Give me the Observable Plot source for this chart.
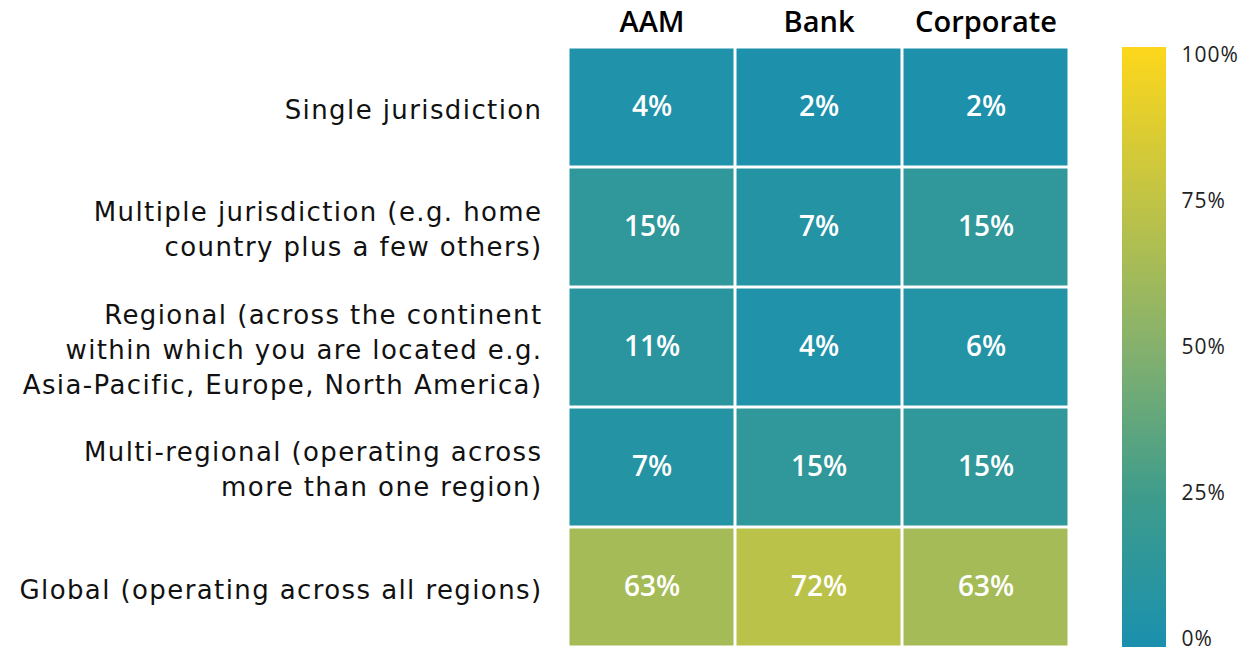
<!DOCTYPE html>
<html>
<head>
<meta charset="utf-8">
<script src="https://cdn.jsdelivr.net/npm/d3@7"></script>
<script src="https://cdn.jsdelivr.net/npm/@observablehq/plot@0.6"></script>
<style>
  body { margin: 0; background: #fff; font-family: "Open Sans", sans-serif; }
  #wrap { display: flex; width: 1252px; height: 651px; }
  #legend { margin-left: 50px; }
  .rowlabels text { letter-spacing: 1.4px; }
  .legendlabels text { letter-spacing: 1px; }
</style>
</head>
<body>
<div id="wrap"><div id="main"></div><div id="legend"></div></div>
<script>
const groups = ["AAM", "Bank", "Corporate"];
const scopes = [
  "Single jurisdiction",
  "Multiple jurisdiction (e.g. home\ncountry plus a few others)",
  "Regional (across the continent\nwithin which you are located e.g.\nAsia-Pacific, Europe, North America)",
  "Multi-regional (operating across\nmore than one region)",
  "Global (operating across all regions)"
];
const aam       = [0.04, 0.15, 0.11, 0.07, 0.63];
const bank      = [0.02, 0.07, 0.04, 0.15, 0.72];
const corporate = [0.02, 0.15, 0.06, 0.15, 0.63];
const legendTicks = [0, 0.25, 0.5, 0.75, 1];
const colorStops = [0, 0.25, 0.5, 0.75, 1];
const colorRange = ["#1a90ae", "#3e9c8c", "#85b16d", "#c2c444", "#fdd71b"];

const series = {AAM: aam, Bank: bank, Corporate: corporate};
const data = [];
for (const g of groups) scopes.forEach((s, i) => data.push({group: g, scope: s, value: series[g][i]}));

const FONT = "Open Sans, sans-serif";
const color = {type: "linear", domain: colorStops, range: colorRange};

const heat = Plot.plot({
  width: 1072, height: 651,
  marginLeft: 567, marginRight: 2, marginTop: 47, marginBottom: 4,
  style: {fontFamily: FONT, background: "#fff"},
  x: {domain: groups, padding: 0, label: null},
  y: {domain: scopes, padding: 0, label: null},
  color,
  marks: [
    Plot.cell(data, {x: "group", y: "scope", fill: "value", inset: 1.5}),
    Plot.text(data, {x: "group", y: "scope", text: d => Math.round(d.value * 100) + "%",
      fill: "white", fontSize: 28, fontWeight: 600}),
    Plot.axisX({anchor: "top", tickSize: 0, tickPadding: 16, fontSize: 29, fontWeight: 600, fill: "#000", label: null}),
    Plot.axisY({anchor: "left", tickSize: 0, tickPadding: 25, fontSize: 26, lineHeight: 1.35,
      fontFamily: "DejaVu Sans, sans-serif", fill: "#111", label: null, className: "rowlabels"})
  ]
});
document.getElementById("main").appendChild(heat);

const cs = heat.scale("color");
const legend = Plot.plot({
  width: 130, height: 651,
  marginLeft: 0, marginRight: 86, marginTop: 55, marginBottom: 12,
  style: {fontFamily: FONT, background: "#fff"},
  y: {domain: [0, 1], label: null},
  x: {domain: [0, 1], axis: null},
  marks: [
    Plot.rect([{}], {x1: 0, x2: 1, y1: 0, y2: 1, fill: "url(#legendGrad)", insetTop: -8, insetBottom: -8}),
    Plot.axisY({anchor: "right", ticks: legendTicks, tickSize: 0, tickPadding: 15, tickFormat: d3.format(".0%"),
      fontSize: 21, fill: "#222", label: null, className: "legendlabels"})
  ]
});
const ns = "http://www.w3.org/2000/svg";
const defs = document.createElementNS(ns, "defs");
const grad = document.createElementNS(ns, "linearGradient");
grad.setAttribute("id", "legendGrad");
grad.setAttribute("x1", "0"); grad.setAttribute("y1", "1");
grad.setAttribute("x2", "0"); grad.setAttribute("y2", "0");
colorStops.forEach(t => {
  const st = document.createElementNS(ns, "stop");
  st.setAttribute("offset", t);
  st.setAttribute("stop-color", cs.apply(t));
  grad.appendChild(st);
});
defs.appendChild(grad);
legend.insertBefore(defs, legend.firstChild);
document.getElementById("legend").appendChild(legend);
</script>
</body>
</html>
